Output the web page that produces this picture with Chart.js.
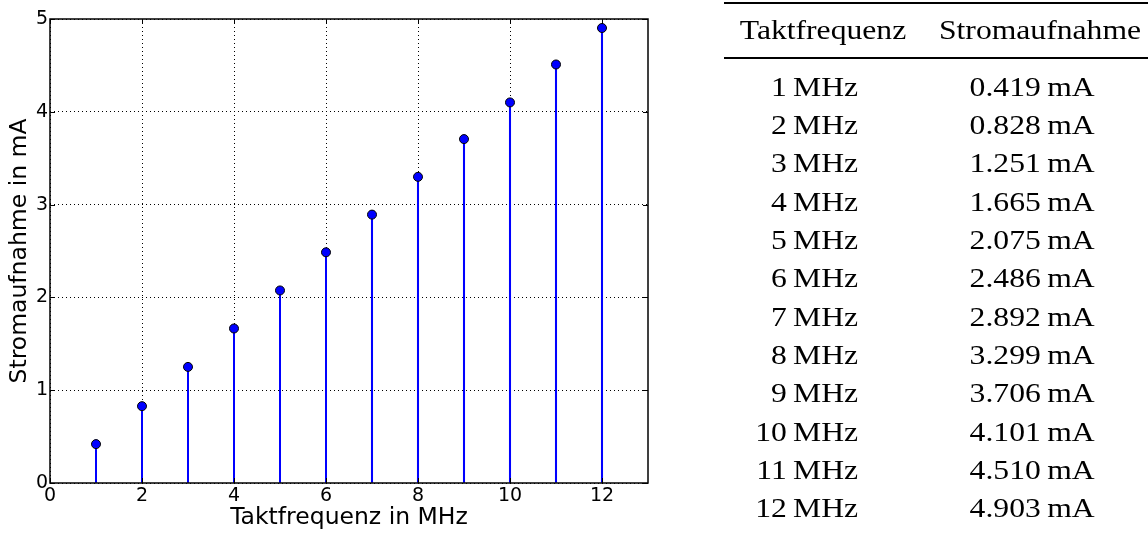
<!DOCTYPE html>
<html>
<head>
<meta charset="utf-8">
<script src="https://cdn.jsdelivr.net/npm/chart.js@4/dist/chart.umd.min.js"></script>
<style>
  body { margin: 0; background: #fff; width: 1148px; height: 534px; overflow: hidden; position: relative; }
  #plot { position: absolute; left: 0; top: 0; }
  #tab { position: absolute; left: 0; top: 0; width: 1148px; height: 534px; font-family: "Liberation Serif", serif; font-size: 28px; color: #000; }
  #tab .rule { position: absolute; left: 724px; width: 424px; background: #000; }
  #tab .cell { position: absolute; white-space: nowrap; line-height: 30px; height: 30px; transform: scaleX(1.13); }
</style>
</head>
<body>
<canvas id="plot" width="665" height="534"></canvas>
<div id="tab"></div>
<script>
// Taktfrequenz (MHz) und gemessene Stromaufnahme (mA)
var freq = [1, 2, 3, 4, 5, 6, 7, 8, 9, 10, 11, 12]
var current = [0.419, 0.828, 1.251, 1.665, 2.075, 2.486, 2.892, 3.299, 3.706, 4.101, 4.510, 4.903]
var xTicks = [0, 2, 4, 6, 8, 10, 12]
var yTicks = [0, 1, 2, 3, 4, 5]
var headers = ['Taktfrequenz', 'Stromaufnahme']

// Rahmen mit nach innen zeigenden Ticks, wie bei matplotlib
var framePlugin = {
    id: 'frame',
    afterDatasetsDraw: function (chart) {
        var ctx = chart.ctx
        var a = chart.chartArea
        var sx = chart.scales.x, sy = chart.scales.y
        ctx.save()
        ctx.strokeStyle = '#000'
        ctx.lineWidth = 1
        ctx.beginPath()
        sx.ticks.forEach(function (t) {
            var px = Math.round(sx.getPixelForValue(t.value)) + 0.5
            ctx.moveTo(px, a.bottom); ctx.lineTo(px, a.bottom - 5)
            ctx.moveTo(px, a.top); ctx.lineTo(px, a.top + 5)
        })
        sy.ticks.forEach(function (t) {
            var py = Math.round(sy.getPixelForValue(t.value)) + 0.5
            ctx.moveTo(a.left, py); ctx.lineTo(a.left + 5, py)
            ctx.moveTo(a.right, py); ctx.lineTo(a.right - 5, py)
        })
        ctx.stroke()
        ctx.lineWidth = 1.5
        ctx.strokeRect(a.left, a.top, a.right - a.left, a.bottom - a.top)
        ctx.restore()
    }
}

var points = freq.map(function (f, i) { return {x: f, y: current[i]} })

var ctx = document.getElementById('plot').getContext('2d')
var chart = new Chart(ctx, {
    type: 'scatter',
    data: {
        datasets: [{
            type: 'scatter',
            data: points,
            pointRadius: 4.5,
            pointHoverRadius: 4.5,
            backgroundColor: '#0000ff',
            borderColor: '#000',
            borderWidth: 1,
            order: 0
        }, {
            type: 'bar',
            data: points,
            backgroundColor: '#0000ff',
            barThickness: 1.4,
            order: 1
        }]
    },
    options: {
        responsive: false,
        animation: false,
        devicePixelRatio: 1,
        layout: { padding: { top: 19, right: 17, left: 0, bottom: 0 } },
        plugins: { legend: { display: false }, tooltip: { enabled: false } },
        scales: {
            x: {
                type: 'linear',
                min: 0, max: 13,
                offset: false,
                afterBuildTicks: function (s) { s.ticks = xTicks.map(function (v) { return {value: v} }) },
                afterFit: function (s) { s.height = 51 },
                grid: { color: '#000', lineWidth: 1, drawTicks: false, offset: false },
                border: { display: false, dash: [1, 3] },
                ticks: { color: '#000', font: { family: 'DejaVu Sans', size: 19 }, padding: 2, maxRotation: 0, autoSkip: false },
                title: { display: true, text: 'Taktfrequenz in MHz', color: '#000', font: { family: 'DejaVu Sans', size: 23.5 }, padding: { top: 0, bottom: 2 } }
            },
            y: {
                type: 'linear',
                min: 0, max: 5,
                afterBuildTicks: function (s) { s.ticks = yTicks.map(function (v) { return {value: v} }) },
                afterFit: function (s) { s.width = 50 },
                grid: { color: '#000', lineWidth: 1, drawTicks: false },
                border: { display: false, dash: [1, 3] },
                ticks: { color: '#000', font: { family: 'DejaVu Sans', size: 19 }, padding: 2 },
                title: { display: true, text: 'Stromaufnahme in mA', color: '#000', font: { family: 'DejaVu Sans', size: 23.5 }, padding: { top: 6, bottom: 0 } }
            }
        }
    },
    plugins: [framePlugin]
})

// Tabelle rechts daneben
function build_table() {
    var tab = document.getElementById('tab')
    function rule(top, h) {
        var d = document.createElement('div')
        d.className = 'rule'
        d.style.top = top + 'px'
        d.style.height = h + 'px'
        tab.appendChild(d)
    }
    function cell(text, y, x, align) {
        var d = document.createElement('div')
        d.className = 'cell'
        d.textContent = text
        d.style.top = (y - 15) + 'px'
        if (align == 'center') {
            d.style.left = (x - 200) + 'px'
            d.style.width = '400px'
            d.style.textAlign = 'center'
            d.style.transformOrigin = 'center'
        } else {
            d.style.right = (1148 - x) + 'px'
            d.style.transformOrigin = 'right'
        }
        tab.appendChild(d)
    }
    rule(2, 2)
    rule(57, 1.5)
    cell(headers[0], 29.5, 823, 'center')
    cell(headers[1], 29.5, 1040, 'center')
    for (var i = 0; i < freq.length; i++) {
        var y = 86.5 + i * 38.36
        cell(freq[i] + '\u2009MHz', y, 858, 'right')
        cell(current[i].toFixed(3) + '\u2009mA', y, 1095, 'right')
    }
}

build_table()
</script>
</body>
</html>
